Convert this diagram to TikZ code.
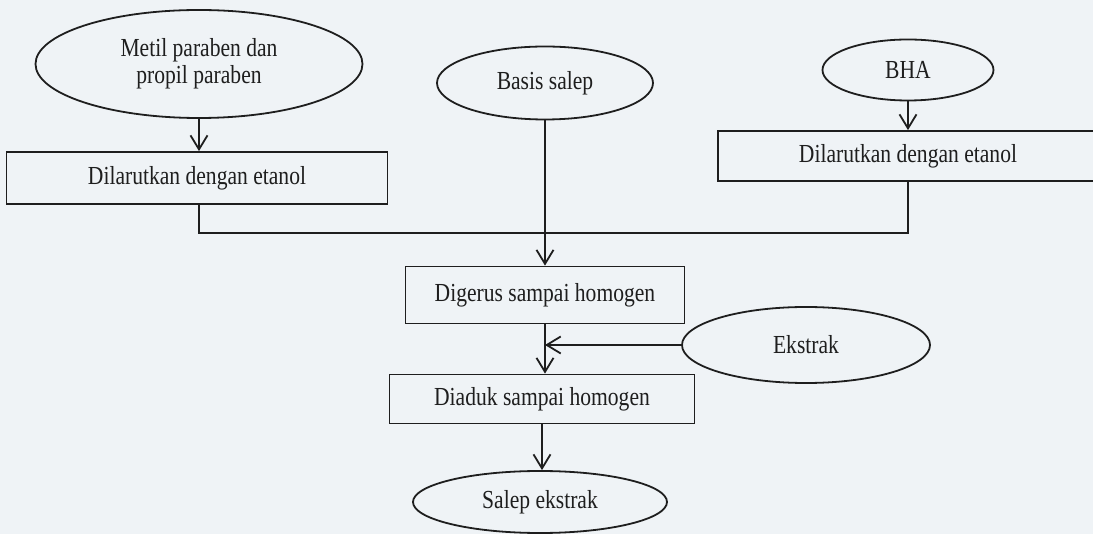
\documentclass[tikz,border=0pt]{standalone}
\usepackage{fontspec}
\setmainfont{Liberation Serif}[FakeStretch=0.83]
\usepackage{tikz}
\usetikzlibrary{shapes.geometric,positioning,arrows.meta}

\definecolor{paper}{RGB}{239,243,246}
\definecolor{ink}{RGB}{30,30,30}

\begin{document}
\begin{tikzpicture}[x=1pt, y=-1pt, font=\fontsize{26}{27}\selectfont, line width=1.8pt, draw=ink, text=ink,
  bahan/.style={ellipse, draw=ink, inner sep=0pt, align=center},
  proses/.style={rectangle, draw=ink, inner sep=0pt},
  arr/.style={-{Straight Barb[length=14pt,width=17pt]}}]

\path[use as bounding box, fill=paper] (0,0) rectangle (1093,534);
\clip (0,0) rectangle (1093,534);

\node[bahan, minimum width=327pt, minimum height=108pt] (metil) at (199,64) {Metil paraben dan\\propil paraben};
\node[bahan, minimum width=216pt, minimum height=73pt] (basis) at (545,83) {Basis salep};
\node[bahan, minimum width=171pt, minimum height=61pt] (bha) at (908,70) {BHA};


\node[proses, minimum width=381pt, minimum height=52pt] (larut1) at (197,178) {Dilarutkan dengan etanol};
\node[proses, minimum width=380pt, minimum height=50pt] (larut2) at (908,156) {Dilarutkan dengan etanol};
\coordinate (gabung) at (545,233);


\node[proses, minimum width=279pt, minimum height=57pt] (gerus) at (545,295) {Digerus sampai homogen};
\node[bahan, minimum width=248pt, minimum height=76pt] (ekstrak) at (806,345) {Ekstrak};
\node[proses, minimum width=305pt, minimum height=49pt] (aduk) at (542,399) {Diaduk sampai homogen};
\node[bahan, minimum width=254pt, minimum height=62pt] (salep) at (540,502) {Salep ekstrak};


\draw[arr] (metil.south) -- (metil.south |- larut1.north);
\draw[arr] (bha.south) -- (larut2.north);
\draw (metil.south |- larut1.south) |- (gabung) -| (larut2.south);
\draw[arr] (basis.south) -- (basis.south |- gerus.north);


\draw[arr] (gerus.south) -- (gerus.south |- aduk.north);
\draw[arr] (ekstrak.west) -- (gerus.south |- ekstrak.west);
\draw[arr] (aduk.south) -- (aduk.south |- salep.north);

\end{tikzpicture}
\end{document}
